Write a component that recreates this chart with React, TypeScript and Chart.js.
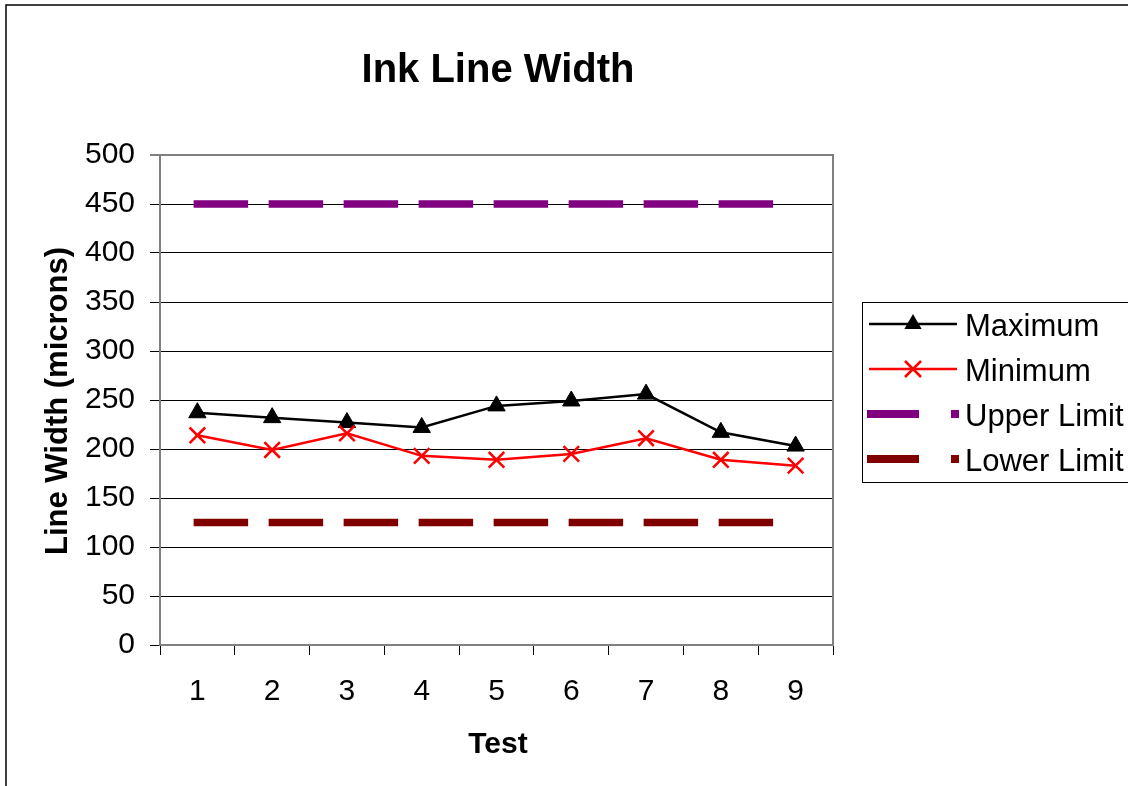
import React, { useEffect, useRef } from "react";
import { Chart, registerables } from "chart.js";

Chart.register(...registerables);

const categories = ["1", "2", "3", "4", "5", "6", "7", "8", "9"];
const maximum = [237, 232, 227, 222, 244, 249, 256, 217, 203];
const minimum = [214, 199, 216, 193, 189, 195, 211, 189, 183];
const upperLimit = [450, 450, 450, 450, 450, 450, 450, 450, 450];
const lowerLimit = [125, 125, 125, 125, 125, 125, 125, 125, 125];
const yMin = 0;
const yMax = 500;
const yStep = 50;

const chartTitle = "Ink Line Width";
const xTitle = "Test";
const yTitle = "Line Width (microns)";
const seriesNames = ["Maximum", "Minimum", "Upper Limit", "Lower Limit"];

const FONT = "'Liberation Sans', Arial, sans-serif";
const BLACK = "#000000";
const RED = "#FF0000";
const PURPLE = "#800080";
const MAROON = "#800000";
const GRAY = "#808080";

const decorPlugin = {
  id: "decor",
  afterDraw(chart: any) {
    const ctx = chart.ctx as CanvasRenderingContext2D;
    const a = chart.chartArea;
    ctx.save();

    // plot area right border
    ctx.strokeStyle = GRAY;
    ctx.lineWidth = 2;
    ctx.beginPath();
    ctx.moveTo(a.right, a.top - 1);
    ctx.lineTo(a.right, a.bottom);
    ctx.stroke();

    // title
    ctx.fillStyle = BLACK;
    ctx.font = `bold 40px ${FONT}`;
    ctx.textAlign = "center";
    ctx.textBaseline = "alphabetic";
    ctx.fillText(chartTitle, 498, 82);

    // x title
    ctx.font = `bold 30px ${FONT}`;
    ctx.fillText(xTitle, 498, 753);

    // y title
    ctx.save();
    ctx.translate(67, 401);
    ctx.rotate(-Math.PI / 2);
    ctx.font = `bold 31px ${FONT}`;
    ctx.textAlign = "center";
    ctx.fillText(yTitle, 0, 0);
    ctx.restore();

    // legend box
    ctx.strokeStyle = BLACK;
    ctx.lineWidth = 1;
    ctx.strokeRect(862.5, 302.5, 400, 180);

    const rows = [324, 369, 414, 459];
    const lx0 = 869;
    const lx1 = 957;
    const mx = 913;

    // Maximum
    ctx.strokeStyle = BLACK;
    ctx.lineWidth = 2.5;
    ctx.beginPath();
    ctx.moveTo(lx0, rows[0]);
    ctx.lineTo(lx1, rows[0]);
    ctx.stroke();
    ctx.fillStyle = BLACK;
    ctx.beginPath();
    const r = 10;
    ctx.moveTo(mx, rows[0] - r);
    ctx.lineTo(mx + r * 0.866, rows[0] + r * 0.5);
    ctx.lineTo(mx - r * 0.866, rows[0] + r * 0.5);
    ctx.closePath();
    ctx.fill();

    // Minimum
    ctx.strokeStyle = RED;
    ctx.lineWidth = 2.5;
    ctx.beginPath();
    ctx.moveTo(lx0, rows[1]);
    ctx.lineTo(lx1, rows[1]);
    ctx.stroke();
    const c = 8;
    ctx.beginPath();
    ctx.moveTo(mx - c, rows[1] - c);
    ctx.lineTo(mx + c, rows[1] + c);
    ctx.moveTo(mx - c, rows[1] + c);
    ctx.lineTo(mx + c, rows[1] - c);
    ctx.stroke();

    // limits
    const limCols = [PURPLE, MAROON];
    for (let i = 0; i < 2; i++) {
      const y = rows[2 + i];
      ctx.fillStyle = limCols[i];
      ctx.fillRect(867, y - 4, 52, 8);
      ctx.fillRect(951, y - 4, 8, 8);
    }

    // legend text
    ctx.fillStyle = BLACK;
    ctx.font = `31px ${FONT}`;
    ctx.textAlign = "left";
    ctx.textBaseline = "alphabetic";
    for (let i = 0; i < 4; i++) {
      ctx.fillText(seriesNames[i], 965, rows[i] + 12);
    }

    // outer border
    ctx.strokeStyle = BLACK;
    ctx.lineWidth = 1.5;
    ctx.strokeRect(6, 5, 1300, 1000);

    ctx.restore();
  },
};

export default function App() {
  const ref = useRef<HTMLCanvasElement | null>(null);

  useEffect(() => {
    document.body.style.margin = "0";
    const canvas = ref.current;
    if (!canvas) return;
    const chart = new Chart(canvas, {
      type: "line",
      data: {
        labels: categories,
        datasets: [
          {
            label: seriesNames[0],
            data: maximum,
            borderColor: BLACK,
            backgroundColor: BLACK,
            borderWidth: 2.5,
            pointStyle: "triangle",
            pointRadius: 10,
            pointBorderWidth: 1,
            pointBackgroundColor: BLACK,
            pointBorderColor: BLACK,
            tension: 0,
            order: 1,
          },
          {
            label: seriesNames[1],
            data: minimum,
            borderColor: RED,
            backgroundColor: RED,
            borderWidth: 2.5,
            pointStyle: "crossRot",
            pointRadius: 11,
            pointBorderWidth: 2.5,
            pointBorderColor: RED,
            tension: 0,
            order: 0,
          },
          {
            label: seriesNames[2],
            data: upperLimit,
            borderColor: PURPLE,
            borderWidth: 7.5,
            borderDash: [47, 28],
            borderCapStyle: "square",
            pointRadius: 0,
            order: 2,
          },
          {
            label: seriesNames[3],
            data: lowerLimit,
            borderColor: MAROON,
            borderWidth: 7.5,
            borderDash: [47, 28],
            borderCapStyle: "square",
            pointRadius: 0,
            order: 3,
          },
        ] as any,
      },
      options: {
        responsive: false,
        animation: false,
        devicePixelRatio: 1,
        layout: { padding: { left: 0, right: 295, top: 155, bottom: 0 } },
        plugins: {
          legend: { display: false },
          title: { display: false },
          tooltip: { enabled: false },
        },
        scales: {
          x: {
            type: "category",
            offset: true,
            grid: {
              offset: true,
              drawOnChartArea: false,
              drawTicks: true,
              tickLength: 10,
              tickColor: BLACK,
              tickWidth: 1,
            },
            border: { display: true, color: GRAY, width: 2 },
            ticks: {
              color: BLACK,
              font: { family: FONT, size: 30 },
              padding: 19,
              maxRotation: 0,
              autoSkip: false,
            },
            afterFit: (s: any) => {
              s.height = 141;
            },
          },
          y: {
            min: yMin,
            max: yMax,
            ticks: {
              stepSize: yStep,
              color: BLACK,
              font: { family: FONT, size: 30 },
              padding: 15,
            },
            grid: {
              color: (c: any) => (c.tick && c.tick.value === yMax ? GRAY : BLACK),
              lineWidth: (c: any) => (c.tick && c.tick.value === yMax ? 2 : 1),
              tickLength: 10,
              tickColor: BLACK,
              tickWidth: 1,
            },
            border: { display: true, color: GRAY, width: 2 },
            afterFit: (s: any) => {
              s.width = 160;
            },
          },
        },
      } as any,
      plugins: [decorPlugin],
    });
    return () => chart.destroy();
  }, []);

  return (
    <canvas
      ref={ref}
      width={1128}
      height={786}
      style={{ display: "block", width: 1128, height: 786 }}
    />
  );
}
